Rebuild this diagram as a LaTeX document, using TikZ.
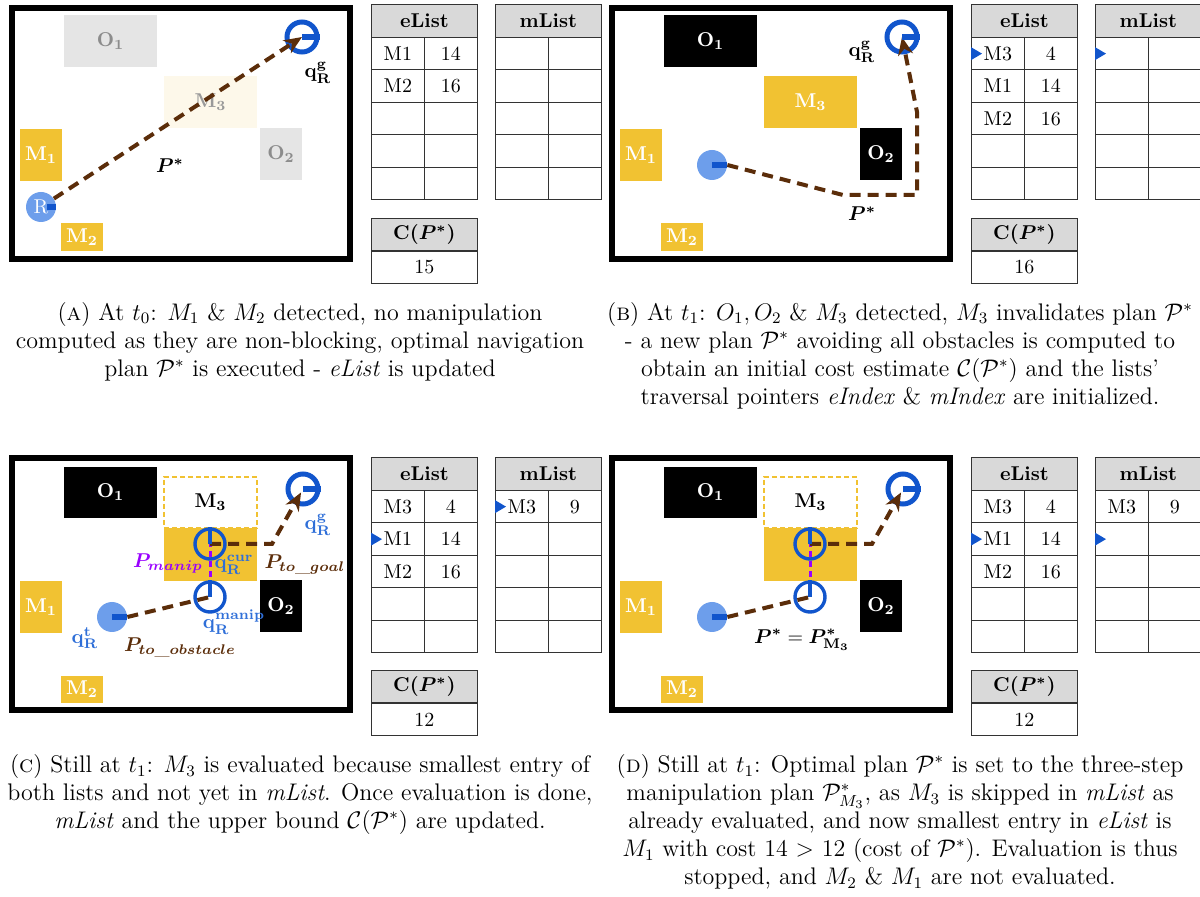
\documentclass[tikz,border=0pt]{standalone}
\usepackage{bm}
\usetikzlibrary{arrows.meta}
\definecolor{myyellow}{HTML}{F1C232}
\definecolor{robotblue}{HTML}{6D9EEB}
\definecolor{ringblue}{HTML}{1155CC}
\definecolor{qblue}{HTML}{2F6FD8}
\definecolor{pathbrown}{HTML}{5B2D0A}
\definecolor{manippurple}{HTML}{9900FF}
\definecolor{lightobs}{HTML}{E5E5E5}
\definecolor{faintm}{HTML}{FDF8EA}
\definecolor{hdrgray}{HTML}{D9D9D9}
\tikzset{
 panelframe/.style={draw=black, line width=3pt, inner sep=0pt},
 blk/.style={inner sep=0pt, outer sep=0pt},
 obsg/.style={blk, fill=lightobs, text=black!45},
 obsk/.style={blk, fill=black, text=white},
 mov/.style={blk, fill=myyellow, text=white},
 movfaint/.style={blk, fill=faintm, text=black!40},
 movghost/.style={blk, draw=myyellow, dash pattern=on 2.5pt off 1.5pt, line width=0.9pt, fill=white, text=black},
 robot/.style={circle, fill=robotblue, minimum size=15pt, inner sep=0pt},
 goal/.style={circle, draw=ringblue, line width=2.5pt, minimum size=15pt, inner sep=0pt},
 pose/.style={circle, draw=ringblue, line width=1.7pt, minimum size=15pt, inner sep=0pt},
 headbar/.style={draw=ringblue, line width=2.6pt},
 posebar/.style={draw=ringblue, line width=2pt},
 navpath/.style={draw=pathbrown, line width=2pt, dash pattern=on 5.5pt off 3.5pt},
 navtip/.style={-{Stealth[length=9pt,width=7.5pt]}},
 manpath/.style={draw=manippurple, line width=1.5pt, dash pattern=on 3pt off 2pt},
 lbl/.style={inner sep=0pt},
 hdr/.style={draw=black!80, fill=hdrgray, minimum width=53pt, minimum height=16.5pt, inner sep=0pt, font=\bfseries, anchor=north west},
 cell/.style={draw=black!80, minimum width=26.5pt, minimum height=16.25pt, inner sep=0pt, anchor=north west},
 costcell/.style={draw=black!80, minimum width=53pt, minimum height=16.5pt, inner sep=0pt, anchor=north west},
 captext/.style={anchor=north, align=center, inner sep=0pt, font=\fontsize{12}{14}\selectfont},
}
\newcommand{\mklist}[4]{%
  \node[hdr] (#4h) at (#1,#2) {#3};
  \foreach \r in {0,...,4}{\foreach \c in {0,1}{
    \node[cell] (#4\r\c) at ({#1+53*\c},{#2+33+32.5*\r}) {};}}
}
\newcommand{\mkptr}[1]{\fill[ringblue] ([yshift=3.25pt]#1.west) -- ([xshift=5.5pt]#1.west) -- ([yshift=-3.25pt]#1.west) -- cycle;}
\begin{document}
\begin{tikzpicture}[x=0.5pt,y=-0.5pt]
\useasboundingbox (0,0) rectangle (1200,897);

% ---------------- Panel A ----------------
\node[panelframe, minimum width=169pt, minimum height=125.5pt] (fA) at (181,133.5) {};
\node[obsg, minimum width=46.5pt, minimum height=26pt] (o1A) at (110.5,41) {$\mathbf{O_1}$};
\node[movfaint, minimum width=46.5pt, minimum height=26pt] (m3A) at (210.5,102) {$\mathbf{M_3}$};
\node[obsg, minimum width=21pt, minimum height=26pt] (o2A) at (281,154) {$\mathbf{O_2}$};
\node[mov, minimum width=21pt, minimum height=26pt] (m1A) at (41,155) {$\mathbf{M_1}$};
\node[mov, minimum width=21pt, minimum height=14pt] (m2A) at (82,237) {$\mathbf{M_2}$};
\node[robot] (rA) at (41,207) {\textcolor{white}{R}};
\node[goal] (gA) at (302,37) {};
\draw[navpath, navtip] (rA) -- (gA.center);
\draw[headbar] ([xshift=3pt]rA.center) -- (rA.east);
\draw[headbar] (gA.center) -- (gA.east);
\node[lbl] (qgA) at (318,73) {$\mathbf{q_R^g}$};
\node[lbl] (pA) at (170,166) {$\bm{P^*}$};

\mklist{371}{4}{eList}{eA}
\mklist{495}{4}{mList}{mA}
\node at (eA00) {M1}; \node at (eA01) {14};
\node at (eA10) {M2}; \node at (eA11) {16};
\node[hdr] (cAh) at (371,218) {C($\bm{P^*}$)};
\node[costcell] (cAv) at (371,250.5) {15};

% ---------------- Panel B ----------------
\node[panelframe, minimum width=169pt, minimum height=125.5pt] (fB) at (781,133.5) {};
\node[obsk, minimum width=46.5pt, minimum height=26pt] (o1B) at (710.5,41) {$\mathbf{O_1}$};
\node[mov, minimum width=46.5pt, minimum height=26pt] (m3B) at (810.5,102) {$\mathbf{M_3}$};
\node[obsk, minimum width=21pt, minimum height=26pt] (o2B) at (881,154) {$\mathbf{O_2}$};
\node[mov, minimum width=21pt, minimum height=26pt] (m1B) at (641,155) {$\mathbf{M_1}$};
\node[mov, minimum width=21pt, minimum height=14pt] (m2B) at (682,237) {$\mathbf{M_2}$};
\node[robot] (rB) at (712,165) {};
\node[goal] (gB) at (902,37) {};
\coordinate (b1) at (843,195);
\coordinate (b2) at (917,195);
\coordinate (b3) at (917,112);
\draw[navpath, navtip] (rB.east) -- (b1) -- (b2) -- (b3) -- (gB.center);
\draw[headbar] (rB.center) -- (rB.east);
\draw[headbar] (gB.center) -- (gB.east);
\node[lbl] (qgB) at (862,52) {$\mathbf{q_R^g}$};
\node[lbl] (pB) at (862,214) {$\bm{P^*}$};

\mklist{971}{4}{eList}{eB}
\mklist{1095}{4}{mList}{mB}
\node at (eB00) {M3}; \node at (eB01) {4};
\node at (eB10) {M1}; \node at (eB11) {14};
\node at (eB20) {M2}; \node at (eB21) {16};
\mkptr{eB00} \mkptr{mB00}
\node[hdr] (cBh) at (971,218) {C($\bm{P^*}$)};
\node[costcell] (cBv) at (971,250.5) {16};

% ---------------- Panels C and D ----------------
\foreach \s/\dx in {C/0,D/600}{
  \node[panelframe, minimum width=169pt, minimum height=126pt] (f\s) at ({181+\dx},584) {};
  \node[obsk, minimum width=46.5pt, minimum height=25.5pt] (o1\s) at ({110.5+\dx},492.5) {$\mathbf{O_1}$};
  \node[movghost, minimum width=46.5pt, minimum height=25.5pt] (m3g\s) at ({210.5+\dx},502.5) {$\mathbf{M_3}$};
  \node[mov, minimum width=46.5pt, minimum height=26.5pt] (m3\s) at ({210.5+\dx},554.5) {};
  \node[obsk, minimum width=21pt, minimum height=26pt] (o2\s) at ({281+\dx},606) {$\mathbf{O_2}$};
  \node[mov, minimum width=21pt, minimum height=26pt] (m1\s) at ({41+\dx},607) {$\mathbf{M_1}$};
  \node[mov, minimum width=21pt, minimum height=13.5pt] (m2\s) at ({82+\dx},689.5) {$\mathbf{M_2}$};
  \node[robot] (r\s) at ({112+\dx},617) {};
  \node[pose] (qm\s) at ({210+\dx},597) {};
  \node[pose] (qc\s) at ({210+\dx},544) {};
  \node[goal] (g\s) at ({303+\dx},489) {};
  \coordinate (k\s) at ({272+\dx},544);
  \draw[navpath] (r\s.east) -- (qm\s.center);
  \draw[manpath] (qm\s.center) -- (qc\s.center);
  \draw[navpath, navtip, shorten >=2pt] (qc\s.center) -- (k\s) -- (g\s.center);
  \draw[headbar] (r\s.center) -- (r\s.east);
  \draw[posebar] (qm\s.center) -- (qm\s.north);
  \draw[posebar] (qc\s.center) -- (qc\s.north);
  \draw[headbar] (g\s.center) -- (g\s.east);
}
\node[lbl, text=qblue] (qgC) at (318,525) {$\mathbf{q_R^g}$};
\node[lbl, text=manippurple] (pmC) at (168,564) {$\bm{P_{manip}}$};
\node[lbl, text=qblue] (qcurC) at (234,565) {$\mathbf{q_R^{cur}}$};
\node[lbl, text=pathbrown] (pgC) at (305,565) {$\bm{P_{to\_goal}}$};
\node[lbl, text=qblue] (qtC) at (85,638) {$\mathbf{q_R^t}$};
\node[lbl, text=qblue] (qmanC) at (234,622) {$\mathbf{q_R^{manip}}$};
\node[lbl, text=pathbrown] (poC) at (180,648) {$\bm{P_{to\_obstacle}}$};
\node[lbl] (pD) at (802,640) {$\bm{P^*} = \bm{P^*_{\mathbf{M_3}}}$};

\mklist{371}{457}{eList}{eC}
\mklist{495}{457}{mList}{mC}
\node at (eC00) {M3}; \node at (eC01) {4};
\node at (eC10) {M1}; \node at (eC11) {14};
\node at (eC20) {M2}; \node at (eC21) {16};
\node at (mC00) {M3}; \node at (mC01) {9};
\mkptr{eC10} \mkptr{mC00}
\node[hdr] (cCh) at (371,670) {C($\bm{P^*}$)};
\node[costcell] (cCv) at (371,702.5) {12};

\mklist{971}{457}{eList}{eD}
\mklist{1095}{457}{mList}{mD}
\node at (eD00) {M3}; \node at (eD01) {4};
\node at (eD10) {M1}; \node at (eD11) {14};
\node at (eD20) {M2}; \node at (eD21) {16};
\node at (mD00) {M3}; \node at (mD01) {9};
\mkptr{eD10} \mkptr{mD10}
\node[hdr] (cDh) at (971,670) {C($\bm{P^*}$)};
\node[costcell] (cDv) at (971,702.5) {12};

% ---------------- Captions ----------------
\node[captext] (capA) at (300,302) {(\textsc{a}) At $t_0$: $M_1$ \& $M_2$ detected, no manipulation\\
computed as they are non-blocking, optimal navigation\\
plan $\mathcal{P}^*$ is executed - \textit{eList} is updated};
\node[captext] (capB) at (900,302) {(\textsc{b}) At $t_1$: $O_1, O_2$ \& $M_3$ detected, $M_3$ invalidates plan $\mathcal{P}^*$\\
- a new plan $\mathcal{P}^*$ avoiding all obstacles is computed to\\
obtain an initial cost estimate $\mathcal{C}(\mathcal{P}^*)$ and the lists'\\
traversal pointers \textit{eIndex} \& \textit{mIndex} are initialized.};
\node[captext] (capC) at (300,754) {(\textsc{c}) Still at $t_1$: $M_3$ is evaluated because smallest entry of\\
both lists and not yet in \textit{mList}. Once evaluation is done,\\
\textit{mList} and the upper bound $\mathcal{C}(\mathcal{P}^*)$ are updated.};
\node[captext] (capD) at (900,754) {(\textsc{d}) Still at $t_1$: Optimal plan $\mathcal{P}^*$ is set to the three-step\\
manipulation plan $\mathcal{P}^*_{M_3}$, as $M_3$ is skipped in \textit{mList} as\\
already evaluated, and now smallest entry in \textit{eList} is\\
$M_1$ with cost 14 $>$ 12 (cost of $\mathcal{P}^*$). Evaluation is thus\\
stopped, and $M_2$ \& $M_1$ are not evaluated.};
\end{tikzpicture}
\end{document}
